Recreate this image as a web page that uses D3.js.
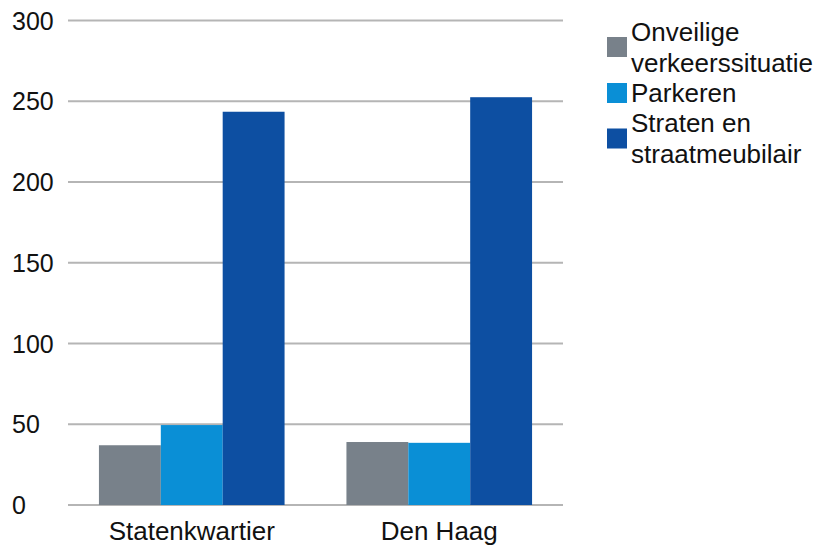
<!DOCTYPE html>
<html>
<head>
<meta charset="utf-8">
<script src="https://cdn.jsdelivr.net/npm/d3@7"></script>
<style>
  body { margin: 0; background: #fff; }
  text { font-family: "Liberation Sans", Arial, sans-serif; fill: #111; }
</style>
</head>
<body>
<svg width="819" height="546"></svg>
<script>
const categories = ['Statenkwartier', 'Den Haag'];
const series = ['Onveilige verkeerssituatie', 'Parkeren', 'Straten en straatmeubilair'];
const legendLines = [['Onveilige', 'verkeerssituatie'], ['Parkeren'], ['Straten en', 'straatmeubilair']];
const onveilig = [37, 39];
const parkeren = [49.5, 38.5];
const straten = [243.5, 252.5];
const yTicks = [0, 50, 100, 150, 200, 250, 300];
const colors = ['#78818a', '#0a8fd6', '#0d4fa2'];

const svg = d3.select('svg');
const margin = {top: 20.5, left: 68, right: 256, bottom: 41};
const width = +svg.attr('width');
const height = +svg.attr('height');
const innerWidth = width - margin.left - margin.right;
const innerHeight = height - margin.top - margin.bottom;

const data = categories.map((c, i) => ({
    category: c,
    values: [onveilig[i], parkeren[i], straten[i]]
}));

const yScale = d3.scaleLinear().domain([0, 300]).range([innerHeight, 0]);
const x0 = d3.scaleBand().domain(categories).range([0, innerWidth]).padding(0);
const x1 = d3.scaleBand().domain(series).range([0, x0.bandwidth()])
    .paddingInner(0).paddingOuter(0.5);

const g = svg.append('g')
    .attr('transform', `translate(${margin.left}, ${margin.top})`);

// gridlines
g.selectAll('.grid').data(yTicks)
    .enter().append('line')
        .attr('x1', 0)
        .attr('x2', innerWidth)
        .attr('y1', d => yScale(d))
        .attr('y2', d => yScale(d))
        .attr('stroke', '#b5b5b5')
        .attr('stroke-width', 2);

// y tick labels, left aligned
svg.selectAll('.ytick').data(yTicks)
    .enter().append('text')
        .attr('x', 12)
        .attr('y', d => margin.top + yScale(d))
        .attr('dy', '0.36em')
        .style('font-size', '25px')
        .text(d => d);

const groups = g.selectAll('.grp').data(data)
    .enter().append('g')
        .attr('transform', d => `translate(${x0(d.category)}, 0)`);

groups.selectAll('rect').data(d => d.values.map((v, i) => ({key: series[i], value: v, i})))
    .enter().append('rect')
        .attr('x', d => x1(d.key))
        .attr('width', x1.bandwidth())
        .attr('y', d => yScale(d.value))
        .attr('height', d => innerHeight - yScale(d.value))
        .attr('fill', d => colors[d.i]);

// category labels
g.selectAll('.cat').data(categories)
    .enter().append('text')
        .attr('x', d => x0(d) + x0.bandwidth() / 2)
        .attr('y', innerHeight + 35)
        .attr('text-anchor', 'middle')
        .style('font-size', '26px')
        .text(d => d);

// legend
const legendX = 607;
const swatchY = [37, 83, 128.5];
const baselines = [[41, 72], [102], [132, 163]];
const legend = svg.append('g');
series.forEach((s, i) => {
    legend.append('rect')
        .attr('x', legendX)
        .attr('y', swatchY[i])
        .attr('width', 20)
        .attr('height', 20)
        .attr('fill', colors[i]);
    legendLines[i].forEach((line, j) => {
        legend.append('text')
            .attr('x', 631)
            .attr('y', baselines[i][j])
            .style('font-size', '26px')
            .text(line);
    });
});
</script>
</body>
</html>
